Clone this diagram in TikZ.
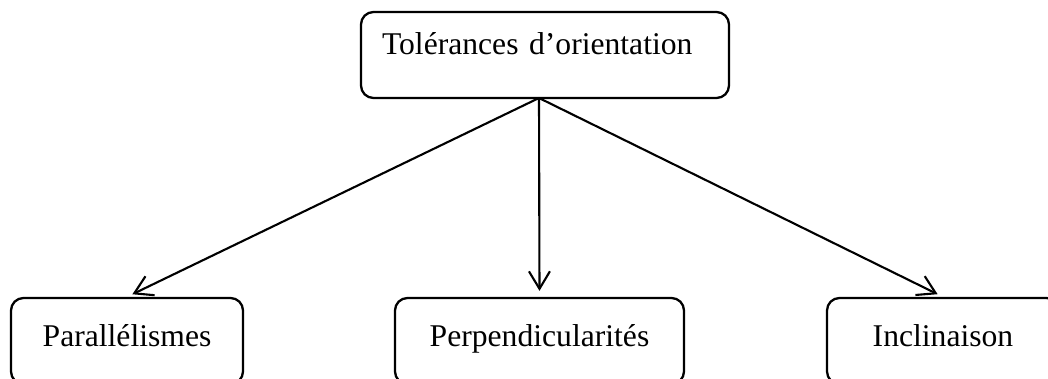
\documentclass[tikz,border=0pt]{standalone}
\usepackage{fontspec}
\setmainfont{Liberation Serif}
\usetikzlibrary{arrows.meta}

\begin{document}
\begin{tikzpicture}[line cap=round,line join=round,x=1.0cm,y=1.0cm,
		boite/.style={draw,line width=1.3pt,rounded corners=0.25cm,font=\fontsize{18}{21}\selectfont},
		feuille/.style={boite,minimum width=4.64cm,minimum height=1.72cm,inner sep=0pt,text height=0.8em,text depth=0.23em},
		fleche/.style={line width=1.2pt,-{Straight Barb[length=3.5mm,width=4.2mm]},shorten >=0.12cm}]
			\clip(0,0) rectangle (20.96,7.56);
			\node[boite,inner xsep=0.42cm,inner ysep=0pt,text width=6.52cm,align=left,text height=0.86cm,text depth=0.86cm] (tol) at (10.90,6.46) {Tolérances d’orientation};
			\coordinate (src) at (10.78,5.60);
			\node[feuille] (para) at (2.54,0.74) {Parallélismes};
			\node[feuille,minimum width=5.78cm] (perp) at (10.79,0.74) {Perpendicularités};
			\node[feuille] (incl) at (18.86,0.74) {Inclinaison};
			\draw[fleche] (src) -- (para.north);
			\draw[fleche] (src) -- (perp.north);
			\draw[fleche] (src) -- (incl.north);
		\end{tikzpicture}
\end{document}
